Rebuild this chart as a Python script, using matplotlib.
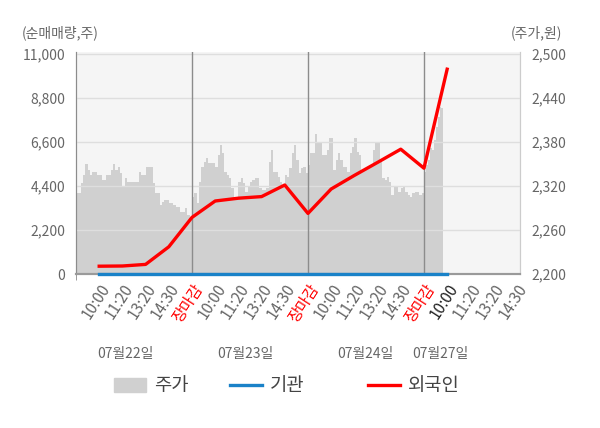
import numpy as np
from matplotlib import pyplot as plt
from matplotlib.patches import Patch
from matplotlib.lines import Line2D

plt.rcParams['font.family'] = ['Noto Sans CJK KR', 'DejaVu Sans']

# price (주가) per day
day1_price = [2311, 2311, 2324, 2335, 2350, 2342, 2335, 2339, 2339, 2335,
              2335, 2328, 2328, 2335, 2335, 2342, 2350, 2342, 2346, 2338,
              2320, 2331, 2325, 2325, 2325, 2325, 2325, 2339, 2335, 2335,
              2346, 2346, 2346, 2324, 2310, 2310, 2294, 2298, 2301, 2301,
              2297, 2297, 2294, 2291, 2291, 2285, 2285, 2290, 2280, 2278]
day2_price = [2305, 2310, 2297, 2325, 2346, 2353, 2358, 2351, 2351, 2351,
              2346, 2362, 2376, 2365, 2339, 2335, 2331, 2317, 2304, 2304,
              2325, 2331, 2324, 2312, 2319, 2325, 2328, 2331, 2331, 2317,
              2315, 2315, 2317, 2353, 2369, 2339, 2339, 2332, 2325, 2321,
              2335, 2332, 2345, 2365, 2376, 2355, 2338, 2345, 2346, 2338]
day3_price = [2349, 2365, 2365, 2391, 2379, 2379, 2362, 2362, 2369, 2385,
              2385, 2342, 2355, 2365, 2355, 2346, 2346, 2339, 2365, 2373,
              2385, 2366, 2362, 2342, 2342, 2342, 2346, 2346, 2369, 2379,
              2379, 2355, 2331, 2328, 2332, 2325, 2308, 2319, 2319, 2312,
              2317, 2319, 2312, 2308, 2305, 2310, 2312, 2312, 2308, 2310]
day4_price = [2339, 2349, 2355, 2372, 2369, 2383, 2400, 2414, 2428, 2426]

# net buying (순매매량) at each label slot
foreign = [390, 400, 480, 1360, 2830, 3650, 3790, 3870, 4450, 3030,
           4250, 4930, 5580, 6240, 5290, 10240]
institution = [0] * 16

tick_labels = ['10:00', '11:20', '13:20', '14:30', '장마감'] * 3 + ['10:00', '11:20', '13:20', '14:30']
dates = ['07월22일', '07월23일', '07월24일', '07월27일']

fig = plt.figure(figsize=(6, 4.28), dpi=100)
ax = fig.add_axes([76 / 600, 1 - 274 / 428, 444 / 600, 222 / 428])
ax2 = ax.twinx()

# price area on ax (right ticks), lines on ax2 (left ticks)
xs, ps = [], []
for d, vals in enumerate([day1_price, day2_price, day3_price]):
    xs.extend(np.linspace(d * 5, d * 5 + 5, len(vals), endpoint=False))
    ps.extend(vals)
xs.extend(np.linspace(15, 15.84, len(day4_price), endpoint=False))
ps.extend(day4_price)
xs.append(15.84)
ps.append(day4_price[-1])
ax.fill_between(xs, 2200, ps, step='post', color='#d0d0d0', lw=0, zorder=1)

ax.set_facecolor('#f5f5f5')
ax.set_xlim(0, 19.14)
ax.set_ylim(2200, 2503)
ax.set_yticks(np.arange(2200, 2501, 60))
ax.set_yticklabels([f'{v:,}' for v in np.arange(2200, 2501, 60)])
ax.yaxis.tick_right()
ax.set_axisbelow(False)
ax.grid(axis='y', color='#dedede', lw=1)
for x in [5, 10, 15]:
    ax.axvline(x, color='#8c8c8c', lw=1, zorder=3)

slots = np.arange(1, 17)
ax2.plot(slots, institution, color='#1a82c8', lw=2.4, clip_on=False, zorder=4)
ax2.plot(slots, foreign, color='#ff0000', lw=2.4, zorder=5)
ax2.set_ylim(0, 11100)
ax2.set_yticks(np.arange(0, 11001, 2200))
ax2.set_yticklabels([f'{v:,}' for v in np.arange(0, 11001, 2200)])
ax2.yaxis.tick_left()

for a in (ax, ax2):
    a.spines['top'].set_visible(False)
    a.spines['left'].set_color('#8c8c8c')
    a.spines['right'].set_color('#cccccc')
    a.spines['bottom'].set_color('#9a9a9a')
    a.spines['bottom'].set_linewidth(1.5)
    a.tick_params(axis='y', length=0, labelsize=10, labelcolor='#666666', pad=8)

ax.set_xticks(np.arange(1, 20))
ax.set_xticklabels(tick_labels, rotation=57, ha='right', va='top', rotation_mode='anchor')
ax.set_xticks([0, 5, 10, 15], minor=True)
ax.tick_params(axis='x', which='major', length=0, labelsize=11, labelcolor='#666666', pad=5)
ax.tick_params(axis='x', which='minor', length=4, color='#8c8c8c')
for i, lab in enumerate(ax.get_xticklabels()):
    if tick_labels[i] == '장마감':
        lab.set_color('#ff0000')
    elif i == 15:
        lab.set_color('#222222')

for px, txt in zip([125, 245, 365, 440], dates):
    fig.text(px / 600, 1 - 354 / 428, txt, ha='center', va='center', fontsize=10, color='#666666')

fig.text(22 / 600, 1 - 33 / 428, '(순매매량,주)', ha='left', va='center', fontsize=10, color='#666666')
fig.text(562 / 600, 1 - 33 / 428, '(주가,원)', ha='right', va='center', fontsize=10, color='#666666')

handles = [Patch(color='#d0d0d0'), Line2D([], [], color='#1a82c8', lw=2.4),
           Line2D([], [], color='#ff0000', lw=2.4)]
names = ['주가', '기관', '외국인']
for h, name, px in zip(handles, names, [114, 230, 368]):
    leg = fig.legend([h], [name], loc='center left', bbox_to_anchor=(px / 600, 1 - 386 / 428),
                     frameon=False, fontsize=13.5, handlelength=1.7, handleheight=0.8,
                     handletextpad=0.45, borderpad=0, borderaxespad=0, labelcolor='#444444')

plt.savefig('out.png', dpi=100)
